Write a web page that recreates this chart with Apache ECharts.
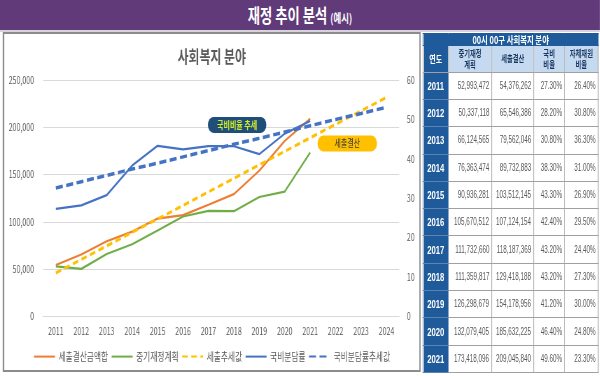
<!DOCTYPE html>
<html>
<head>
<meta charset="utf-8">
<script src="https://cdn.jsdelivr.net/npm/echarts@6/dist/echarts.min.js"></script>
<style>
html, body { margin: 0; padding: 0; width: 600px; height: 376px; overflow: hidden; background: #fff; font-family: "Noto Sans CJK KR", sans-serif; }
/* 원본 이미지가 가로로 눌려 있어서 전체를 0.7배로 압축 */
#page { position: absolute; left: 0; top: 0; width: 857px; height: 376px; transform: scaleX(0.7); transform-origin: 0 0; }
#head { position: absolute; left: 0; top: 0; width: 857px; height: 30px; background: #603a79; color: #fff; text-align: center; font-weight: bold; font-size: 19px; line-height: 30px; }
#head small { font-size: 12px; font-weight: bold; }
#strip { position: absolute; left: 0; top: 30px; width: 857px; height: 2px; background: #d6d3dc; }
#chart { position: absolute; left: 4px; top: 32px; width: 597px; height: 340px; border: 2px solid #8c8c8c; box-sizing: border-box; background: #fff; }
#tbl { position: absolute; left: 604px; top: 33px; width: 250px; border-collapse: collapse; table-layout: fixed; }
#tbl th, #tbl td { border: 1px solid #a0a0a0; padding: 0; overflow: hidden; white-space: nowrap; }
#tbl tr.t th { height: 11px; background: #1f5b9a; color: #fff; font-size: 10.5px; line-height: 11px; font-weight: bold; border-color: #1f5b9a; }
#tbl tr.h th { height: 25.7px; background: #c5d9f1; color: #17375e; font-size: 9px; line-height: 11px; font-weight: bold; }
#tbl tr.h th.y { background: #1f5b9a; color: #fff; font-size: 10px; }
#tbl td { height: 26.3px; line-height: 14px; text-align: right; padding-right: 3px; color: #595959; font-family: "Liberation Sans", sans-serif; font-size: 10px; }
#tbl td span { display: inline-block; transform: scaleX(0.9); transform-origin: right center; }
#tbl td.y { background: #1f5b9a; color: #fff; text-align: center; padding: 0; font-weight: bold; font-size: 11px; border-color: #5b84b3; }
</style>
</head>
<body>
<div id="page">
  <div id="head">재정 추이 분석 <small>(예시)</small></div>
  <div id="strip"></div>
  <div id="chart"></div>
  <table id="tbl">
    <colgroup><col style="width:36px"><col style="width:62px"><col style="width:60px"><col style="width:44px"><col style="width:48px"></colgroup>
    <thead>
      <tr class="t"><th colspan="5">00시 00구 사회복지 분야</th></tr>
      <tr class="h"><th class="y">연도</th><th>중기재정<br>계획</th><th>세출결산</th><th>국비<br>비율</th><th>자체재원<br>비율</th></tr>
    </thead>
    <tbody id="rows"></tbody>
  </table>
</div>
<script>
const FONT = "Noto Sans CJK KR";

// 표 데이터 (2011~2021)
const dataYears = ["2011", "2012", "2013", "2014", "2015", "2016", "2017", "2018", "2019", "2020", "2021"];
const planValues = [52993472, 50337118, 66124565, 76363474, 90936281, 105670512, 111732660, 111359817, 126298679, 132079405, 173418096];
const settledValues = [54376262, 65546386, 79562046, 89732883, 103512145, 107124154, 118187369, 129418188, 154178956, 185632225, 209045840];
const nationalRatio = [27.3, 28.2, 30.8, 38.3, 43.3, 42.4, 43.2, 43.2, 41.2, 46.4, 49.6];
const selfRatio = [26.4, 30.8, 36.3, 31.0, 26.9, 29.5, 24.4, 27.3, 30.0, 24.8, 23.3];

// 차트 x축 (추세선은 2024까지)
const axisYears = ["2011", "2012", "2013", "2014", "2015", "2016", "2017", "2018", "2019", "2020", "2021", "2022", "2023", "2024"];
// 그림에서 읽은 추세값
const settledTrend = [46000, 60300, 74600, 88900, 103100, 117400, 131700, 146000, 160300, 174600, 188900, 203100, 217400, 231700];
const ratioTrend = [32.6, 34.2, 35.8, 37.4, 38.9, 40.5, 42.1, 43.7, 45.2, 46.8, 48.4, 50.0, 51.5, 53.1];

// 표 그리기
const fmt = (v) => v.toLocaleString("en-US");
const tbody = document.getElementById("rows");
dataYears.forEach((y, i) => {
  const tr = document.createElement("tr");
  tr.innerHTML =
    `<td class="y">${y}</td><td><span>${fmt(planValues[i])}</span></td><td><span>${fmt(settledValues[i])}</span></td>` +
    `<td><span>${nationalRatio[i].toFixed(2)}%</span></td><td><span>${selfRatio[i].toFixed(2)}%</span></td>`;
  tbody.appendChild(tr);
});

// 차트는 천원 단위
const settledK = settledValues.map((v) => v / 1000);
const planK = planValues.map((v) => v / 1000);

const myChart = echarts.init(document.getElementById("chart"));

const labelStyle = { color: "#595959", fontSize: 10, fontFamily: FONT };

const option = {
  animation: false,
  title: {
    text: "사회복지 분야",
    left: "center",
    top: 9,
    textStyle: { fontSize: 17, fontWeight: "bold", color: "#595959", fontFamily: FONT },
  },
  legend: {
    top: 312,
    left: "center",
    itemWidth: 30,
    itemHeight: 14,
    itemGap: 4,
    itemStyle: { opacity: 0 },
    textStyle: { fontSize: 11, color: "#595959", fontFamily: FONT },
    data: ["세출결산금액합", "중기재정계획", "세출추세값", "국비분담률", "국비분담률추세값"],
  },
  grid: { left: 55.6, right: 28.7, top: 46, bottom: 53.5, containLabel: false, outerBoundsMode: "none" },
  xAxis: {
    type: "category",
    data: axisYears,
    boundaryGap: true,
    axisLine: { lineStyle: { color: "#d9d9d9" } },
    axisTick: { show: false },
    axisLabel: { ...labelStyle, margin: 10 },
  },
  yAxis: [
    {
      type: "value",
      min: 0,
      max: 250000,
      interval: 50000,
      axisLine: { show: false },
      axisTick: { show: false },
      axisLabel: { ...labelStyle, margin: 13, formatter: (v) => fmt(v) },
      splitLine: { lineStyle: { color: "#d9d9d9" } },
    },
    {
      type: "value",
      min: 0,
      max: 60,
      interval: 10,
      axisLine: { show: false },
      axisTick: { show: false },
      axisLabel: { ...labelStyle, margin: 11 },
      splitLine: { show: false },
    },
  ],
  series: [
    {
      name: "세출결산금액합",
      type: "line",
      data: settledK,
      symbol: "none",
      lineStyle: { color: "#ed7d31", width: 2.2 },
      itemStyle: { color: "#ed7d31" },
    },
    {
      name: "중기재정계획",
      type: "line",
      data: planK,
      symbol: "none",
      lineStyle: { color: "#70ad47", width: 2.2 },
      itemStyle: { color: "#70ad47" },
    },
    {
      name: "세출추세값",
      type: "line",
      data: settledTrend,
      symbol: "none",
      lineStyle: { color: "#ffc000", width: 3, type: [8, 5] },
      itemStyle: { color: "#ffc000" },
      markPoint: {
        silent: true,
        symbol: "circle",
        symbolSize: 1,
        itemStyle: { color: "rgba(0,0,0,0)" },
        data: [{ coord: ["2022", 183000] }],
        label: {
          show: true,
          position: "inside",
          formatter: "세출결산",
          backgroundColor: "#ffc000",
          color: "#3a3a3a",
          fontSize: 10,
          lineHeight: 10,
          fontFamily: FONT,
          padding: [3, 24],
          borderRadius: 8,
          offset: [16.6, 0],
        },
      },
    },
    {
      name: "국비분담률",
      type: "line",
      yAxisIndex: 1,
      data: nationalRatio,
      symbol: "none",
      lineStyle: { color: "#4472c4", width: 2.2 },
      itemStyle: { color: "#4472c4" },
    },
    {
      name: "국비분담률추세값",
      type: "line",
      yAxisIndex: 1,
      data: ratioTrend,
      symbol: "none",
      lineStyle: { color: "#4472c4", width: 3.5, type: [10, 5] },
      itemStyle: { color: "#4472c4" },
      markPoint: {
        silent: true,
        symbol: "circle",
        symbolSize: 1,
        itemStyle: { color: "rgba(0,0,0,0)" },
        data: [{ coord: ["2018", 48.6] }],
        label: {
          show: true,
          position: "inside",
          formatter: "국비비율 추세",
          backgroundColor: "#1f4e79",
          color: "#d2ea2c",
          fontSize: 10,
          lineHeight: 10,
          fontWeight: "bold",
          fontFamily: FONT,
          padding: [3, 13],
          borderRadius: 8,
          offset: [4.6, 0],
        },
      },
    },
  ],
};

myChart.setOption(option);
</script>
</body>
</html>
